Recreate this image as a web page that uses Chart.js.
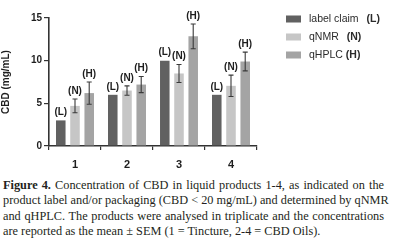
<!DOCTYPE html>
<html>
<head>
<meta charset="utf-8">
<script src="https://cdn.jsdelivr.net/npm/chart.js@4.4.1/dist/chart.umd.min.js"></script>
<style>
  html, body { margin: 0; padding: 0; background: #ffffff; }
  body { width: 400px; height: 248px; overflow: hidden; position: relative; }
  #wrap { position: absolute; left: 0; top: 0; width: 400px; height: 172px; }
  #caption { position: absolute; left: 3px; top: 178px; width: 381px;
    font-family: "Liberation Serif", "Times New Roman", serif; font-size: 12.3px; line-height: 15.4px; color: #231f20; }
  #caption div { text-align: justify; text-align-last: justify; white-space: nowrap; }
  #caption div.last { text-align-last: left; }
</style>
</head>
<body>
<div id="wrap"><canvas id="c"></canvas></div>
<div id="caption">
  <div><b>Figure 4.</b> Concentration of CBD in liquid products 1-4, as indicated on the</div>
  <div>product label and/or packaging (CBD &lt; 20 mg/mL) and determined by qNMR</div>
  <div>and qHPLC. The products were analysed in triplicate and the concentrations</div>
  <div class="last">are reported as the mean ± SEM (1 = Tincture, 2-4 = CBD Oils).</div>
</div>
<script>
const categories = ["1", "2", "3", "4"];
const seriesNames = ["label claim", "qNMR", "qHPLC"];
const seriesTags = ["(L)", "(N)", "(H)"];
const labelClaim = [3, 6, 10, 6];
const qNMR = [4.7, 6.5, 8.5, 7.05];
const qNMRErr = [0.8, 0.55, 1.05, 1.25];
const qHPLC = [6.2, 7.2, 12.85, 9.9];
const qHPLCErr = [1.3, 0.95, 1.45, 1.1];
const yTicks = [0, 5, 10, 15];

const colors = ["#616161", "#c6c6c6", "#a4a4a4"];
const errs = [null, qNMRErr, qHPLCErr];

const overlay = {
  id: 'overlay',
  afterDatasetsDraw(chart) {
    const ctx = chart.ctx;
    const y = chart.scales.y;
    ctx.save();
    chart.data.datasets.forEach((ds, di) => {
      const meta = chart.getDatasetMeta(di);
      meta.data.forEach((bar, i) => {
        let topPx = bar.y;
        const e = errs[di];
        if (e) {
          const v = ds.data[i];
          const hi = y.getPixelForValue(v + e[i]);
          const lo = y.getPixelForValue(v - e[i]);
          ctx.strokeStyle = '#3a3a3a';
          ctx.lineWidth = 1.1;
          ctx.beginPath();
          ctx.moveTo(bar.x, hi); ctx.lineTo(bar.x, lo);
          ctx.moveTo(bar.x - 2.5, hi); ctx.lineTo(bar.x + 2.5, hi);
          ctx.moveTo(bar.x - 2.5, lo); ctx.lineTo(bar.x + 2.5, lo);
          ctx.stroke();
          topPx = hi;
        }
        ctx.fillStyle = '#1e1e1e';
        ctx.font = 'bold 10px "Liberation Sans", Arial, sans-serif';
        ctx.textAlign = 'center';
        ctx.textBaseline = 'bottom';
        ctx.fillText(seriesTags[di], bar.x, topPx - 3);
      });
    });
    ctx.restore();
  },
  afterDraw(chart) {
    const ctx = chart.ctx;
    ctx.save();
    ctx.textBaseline = 'middle';
    chart.data.datasets.forEach((ds, di) => {
      const cy = 19 + di * 18;
      ctx.fillStyle = colors[di];
      ctx.fillRect(286, cy - 3.5, 15, 7);
      ctx.fillStyle = '#2b2b2b';
      ctx.font = '10.5px "Liberation Sans", Arial, sans-serif';
      ctx.textAlign = 'left';
      ctx.fillText(ds.label, 309, cy);
      const w = ctx.measureText(ds.label).width;
      ctx.font = 'bold 10.5px "Liberation Sans", Arial, sans-serif';
      ctx.fillText(seriesTags[di], 309 + w + (di === 2 ? 3 : 8), cy);
    });
    ctx.restore();
  }
};

new Chart(document.getElementById('c'), {
  type: 'bar',
  data: {
    labels: categories,
    datasets: [
      { label: seriesNames[0], data: labelClaim, backgroundColor: colors[0] },
      { label: seriesNames[1], data: qNMR, backgroundColor: colors[1] },
      { label: seriesNames[2], data: qHPLC, backgroundColor: colors[2] }
    ]
  },
  options: {
    responsive: true,
    maintainAspectRatio: false,
    animation: false,
    devicePixelRatio: 1,
    layout: { padding: { left: 0, top: 18, right: 143, bottom: 0 } },
    datasets: { bar: { categoryPercentage: 0.82, barPercentage: 0.67 } },
    plugins: { legend: { display: false }, tooltip: { enabled: false } },
    scales: {
      x: {
        grid: { display: true, drawOnChartArea: false, drawTicks: true, tickLength: 4, color: '#333', lineWidth: 1.2 },
        border: { display: true, color: '#333', width: 1.6 },
        ticks: { color: '#1e1e1e', font: { family: '"Liberation Sans", Arial, sans-serif', size: 11, weight: 'bold' }, padding: 8 },
        afterFit(s) { s.height = 26; }
      },
      y: {
        min: 0, max: 15,
        afterBuildTicks(s) { s.ticks = yTicks.map(v => ({ value: v })); },
        grid: { display: true, drawOnChartArea: false, drawTicks: true, tickLength: 5, color: '#333', lineWidth: 1.2 },
        border: { display: true, color: '#333', width: 1.6 },
        ticks: { color: '#1e1e1e', font: { family: '"Liberation Sans", Arial, sans-serif', size: 10, weight: 'bold' }, padding: 2 },
        title: { display: true, text: 'CBD (mg/mL)', color: '#1e1e1e', font: { family: '"Liberation Sans", Arial, sans-serif', size: 10, weight: 'bold' }, padding: { top: 0, bottom: 6 } },
        afterFit(s) { s.width = 49; }
      }
    }
  },
  plugins: [overlay]
});
</script>
</body>
</html>
